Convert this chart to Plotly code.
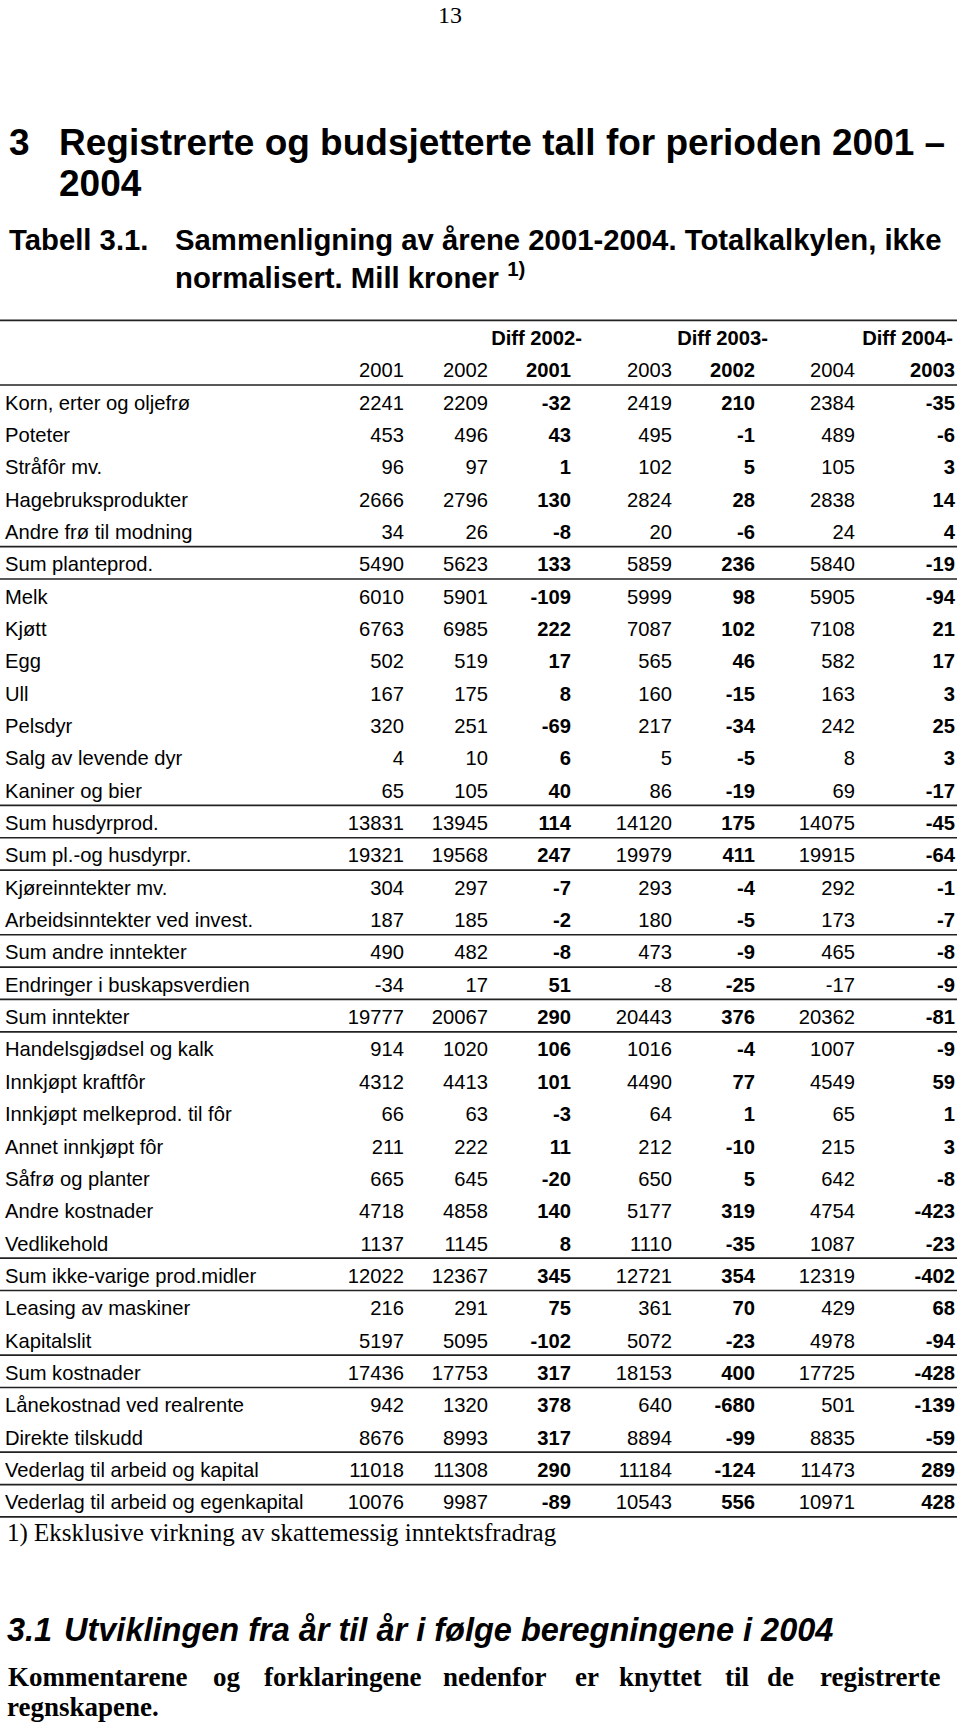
import plotly.graph_objects as go

# ---------------- data ----------------
row_labels = [
    "Korn, erter og oljefrø", "Poteter", "Stråfôr mv.", "Hagebruksprodukter",
    "Andre frø til modning", "Sum planteprod.", "Melk", "Kjøtt", "Egg", "Ull",
    "Pelsdyr", "Salg av levende dyr", "Kaniner og bier", "Sum husdyrprod.",
    "Sum pl.-og husdyrpr.", "Kjøreinntekter mv.", "Arbeidsinntekter ved invest.",
    "Sum andre inntekter", "Endringer i buskapsverdien", "Sum inntekter",
    "Handelsgjødsel og kalk", "Innkjøpt kraftfôr", "Innkjøpt melkeprod. til fôr",
    "Annet innkjøpt fôr", "Såfrø og planter", "Andre kostnader", "Vedlikehold",
    "Sum ikke-varige prod.midler", "Leasing av maskiner", "Kapitalslit",
    "Sum kostnader", "Lånekostnad ved realrente", "Direkte tilskudd",
    "Vederlag til arbeid og kapital", "Vederlag til arbeid og egenkapital",
]

v2001 = [2241, 453, 96, 2666, 34, 5490, 6010, 6763, 502, 167, 320, 4, 65, 13831,
         19321, 304, 187, 490, -34, 19777, 914, 4312, 66, 211, 665, 4718, 1137,
         12022, 216, 5197, 17436, 942, 8676, 11018, 10076]
v2002 = [2209, 496, 97, 2796, 26, 5623, 5901, 6985, 519, 175, 251, 10, 105, 13945,
         19568, 297, 185, 482, 17, 20067, 1020, 4413, 63, 222, 645, 4858, 1145,
         12367, 291, 5095, 17753, 1320, 8993, 11308, 9987]
d2002_2001 = [-32, 43, 1, 130, -8, 133, -109, 222, 17, 8, -69, 6, 40, 114, 247, -7,
              -2, -8, 51, 290, 106, 101, -3, 11, -20, 140, 8, 345, 75, -102, 317,
              378, 317, 290, -89]
v2003 = [2419, 495, 102, 2824, 20, 5859, 5999, 7087, 565, 160, 217, 5, 86, 14120,
         19979, 293, 180, 473, -8, 20443, 1016, 4490, 64, 212, 650, 5177, 1110,
         12721, 361, 5072, 18153, 640, 8894, 11184, 10543]
d2003_2002 = [210, -1, 5, 28, -6, 236, 98, 102, 46, -15, -34, -5, -19, 175, 411, -4,
              -5, -9, -25, 376, -4, 77, 1, -10, 5, 319, -35, 354, 70, -23, 400,
              -680, -99, -124, 556]
v2004 = [2384, 489, 105, 2838, 24, 5840, 5905, 7108, 582, 163, 242, 8, 69, 14075,
         19915, 292, 173, 465, -17, 20362, 1007, 4549, 65, 215, 642, 4754, 1087,
         12319, 429, 4978, 17725, 501, 8835, 11473, 10971]
d2004_2003 = [-35, -6, 3, 14, 4, -19, -94, 21, 17, 3, 25, 3, -17, -45, -64, -1, -7,
              -8, -9, -81, -9, 59, 1, 3, -8, -423, -23, -402, 68, -94, -428, -139,
              -59, 289, 428]

col_headers = ["2001", "2002", "2001", "2003", "2002", "2004", "2003"]
diff_headers = ["Diff 2002-", "Diff 2003-", "Diff 2004-"]
# rows after which a horizontal rule is drawn
rules_after = [4, 5, 12, 13, 14, 16, 17, 18, 19, 26, 27, 29, 30, 32, 33, 34]

# ---------------- layout constants ----------------
W, H = 960, 1725
SANS = "Liberation Sans, Arial, sans-serif"
SERIF = "Liberation Serif, Times New Roman, serif"
col_right = [404, 488, 571, 672, 755, 855, 955]
diff_right = [582, 768, 953]
col_bold = [False, False, True, False, True, False, True]
series = [v2001, v2002, d2002_2001, v2003, d2003_2002, v2004, d2004_2003]

n = len(row_labels)
ROW_PX = 32.34                  # pixel height of one table row
SHIFT = 3.5                     # text sits slightly low in its row
ROW0_TOP_PX = 320.3 + SHIFT     # pixel position of y = -2.5
ymin, ymax = -2.8, n - 0.3      # axis range (rows), with a little slack
top_px = ROW0_TOP_PX + (ymin + 2.5) * ROW_PX
bot_px = ROW0_TOP_PX + (ymax + 2.5) * ROW_PX
rule_off = 0.5 - SHIFT / ROW_PX
rows = list(range(n))
TXT = 20.2

fig = go.Figure()

# row labels
fig.add_trace(go.Scatter(
    x=[5] * n, y=rows, mode="text", text=row_labels,
    textposition="middle right", cliponaxis=False,
    textfont=dict(family=SANS, size=TXT, color="black"),
    hoverinfo="skip", showlegend=False))

# numeric columns
for vals, xr, bold in zip(series, col_right, col_bold):
    fig.add_trace(go.Scatter(
        x=[xr] * n, y=rows, mode="text", text=[str(v) for v in vals],
        textposition="middle left", cliponaxis=False,
        textfont=dict(family=SANS, size=TXT, color="black",
                      weight="bold" if bold else "normal"),
        hoverinfo="skip", showlegend=False))

# header row with years
fig.add_trace(go.Scatter(
    x=col_right, y=[-1] * len(col_headers), mode="text", text=col_headers,
    textposition="middle left", cliponaxis=False,
    textfont=dict(family=SANS, size=TXT, color="black",
                  weight=["bold" if b else "normal" for b in col_bold]),
    hoverinfo="skip", showlegend=False))
# header row with Diff labels
fig.add_trace(go.Scatter(
    x=diff_right, y=[-2] * len(diff_headers), mode="text", text=diff_headers,
    textposition="middle left", cliponaxis=False,
    textfont=dict(family=SANS, size=TXT, color="black", weight="bold"),
    hoverinfo="skip", showlegend=False))

# rules: top rule, header rule, then group rules
line_style = dict(color="#222222", width=1.7)
for yv in [-3 + rule_off, -1 + rule_off] + [r + rule_off for r in rules_after]:
    fig.add_shape(type="line", xref="x", yref="y", x0=0, x1=957, y0=yv, y1=yv,
                  line=line_style)

# ---------------- page text (pixel positions from top) ----------------
def ann(x, y, text, size, family=SANS, weight="normal", style="normal",
        xanchor="left"):
    fig.add_annotation(x=x, y=1 - y / H, xref="x", yref="paper", text=text,
                       showarrow=False, xanchor=xanchor, yanchor="middle",
                       font=dict(family=family, size=size, color="black",
                                 weight=weight, style=style))

ann(450, 15, "13", 24, family=SERIF, xanchor="center")
ann(7, 142, "3", 37, weight="bold")
ann(57, 142, "Registrerte og budsjetterte tall for perioden 2001 –", 37, weight="bold")
ann(57, 183, "2004", 37, weight="bold")
ann(7, 240, "Tabell 3.1.", 29.3, weight="bold")
ann(173, 240, "Sammenligning av årene 2001-2004. Totalkalkylen, ikke", 29.3, weight="bold")
ann(173, 275, "normalisert. Mill kroner <sup>1)</sup>", 29.3, weight="bold")
ann(5, 1533, "1) Eksklusive virkning av skattemessig inntektsfradrag", 25, family=SERIF)
ann(5, 1630, "3.1", 32.5, weight="bold", style="italic")
ann(62, 1630, "Utviklingen fra år til år i følge beregningene i 2004", 32.5,
    weight="bold", style="italic")
para_words = ["Kommentarene", "og", "forklaringene", "nedenfor", "er", "knyttet",
              "til", "de"]
para_x = [6, 211, 262, 441, 573, 617, 723, 765]
for wd, xx in zip(para_words, para_x):
    ann(xx, 1677, wd, 27, family=SERIF, weight="bold")
ann(942, 1677, "registrerte", 27, family=SERIF, weight="bold", xanchor="right")
ann(5, 1707, "regnskapene.", 27, family=SERIF, weight="bold")

fig.update_layout(
    width=W, height=H, margin=dict(l=0, r=0, t=0, b=0),
    paper_bgcolor="white", plot_bgcolor="white", showlegend=False,
    xaxis=dict(range=[0, W], domain=[0, 1], visible=False, fixedrange=True),
    yaxis=dict(range=[ymax, ymin], domain=[1 - bot_px / H, 1 - top_px / H],
               visible=False, fixedrange=True),
)

fig.write_html("out.html", config={"displayModeBar": False},
               post_script="document.body.style.margin='0';"
                           "document.body.style.overflow='hidden';")
